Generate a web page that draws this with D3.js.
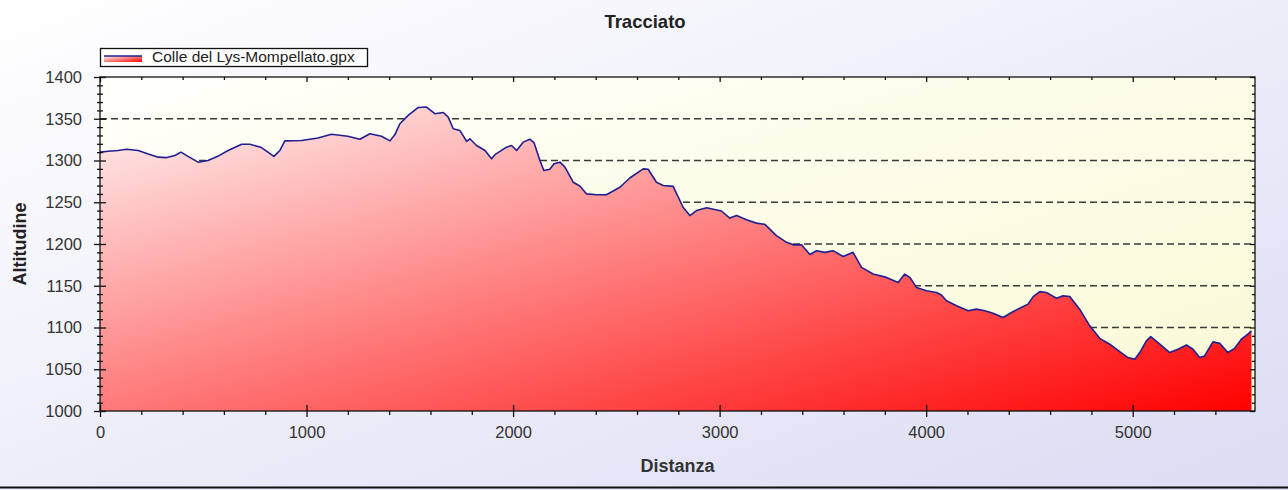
<!DOCTYPE html>
<html>
<head>
<meta charset="utf-8">
<script src="https://cdn.jsdelivr.net/npm/d3@7"></script>
<style>
html,body{margin:0;padding:0;overflow:hidden;}
svg{display:block;}
text{font-family:"Liberation Sans",Arial,sans-serif;}
</style>
</head>
<body>
<svg id="chart" width="1288" height="490"></svg>
<script>
// ---- data ----
const title = "Tracciato";
const seriesName = "Colle del Lys-Mompellato.gpx";
const xLabel = "Distanza";
const yLabel = "Altitudine";
const distances = [0,40,87,129,185,230,282,323,363,392,426,475,523,570,620,686,726,782,813,842,871,895,976,1055,1121,1200,1258,1307,1363,1404,1428,1452,1492,1541,1581,1621,1662,1686,1710,1742,1775,1791,1823,1864,1896,1912,1968,1993,2017,2049,2081,2101,2130,2149,2178,2198,2227,2251,2291,2323,2356,2404,2452,2517,2565,2630,2654,2694,2727,2775,2823,2856,2888,2937,3009,3049,3082,3130,3178,3219,3275,3324,3356,3396,3437,3469,3509,3549,3598,3646,3687,3743,3808,3864,3896,3921,3953,4001,4050,4074,4098,4147,4203,4243,4284,4324,4372,4413,4453,4493,4518,4550,4582,4631,4663,4695,4743,4792,4840,4889,4937,4977,5010,5034,5066,5087,5131,5179,5219,5260,5292,5324,5348,5389,5421,5461,5493,5526,5558,5575];
const altitudes = [1310,1311,1312,1313.5,1312,1308,1304,1303.5,1306,1310,1305,1298,1300,1305,1312,1319.5,1319.5,1315.5,1310,1305,1312,1323.5,1324,1327,1331.5,1329,1325.5,1332,1329,1323.5,1331,1344,1354,1363.5,1364,1356,1357.5,1352,1338,1336,1323,1326,1318,1312,1302,1307,1316,1318,1312,1322,1325.5,1321.5,1300,1288,1289.5,1296,1298,1292,1274,1269.5,1260,1259,1259,1268,1279,1290,1289.5,1274,1270,1269,1244,1234,1240,1243.5,1239.5,1231,1234,1229,1225,1223.5,1210,1202,1199,1199,1187.5,1192,1190,1192,1185,1190,1172,1164,1160,1154,1164,1160,1148,1144,1142,1139,1132,1126,1120,1122,1120,1117,1112,1118,1123,1128,1137,1143,1142,1135,1138,1137,1122,1102,1087,1080,1071,1064,1062,1070,1084,1089,1080,1070,1074,1079,1074,1064,1066,1083,1081,1070,1075,1086,1092,1096];
const xTicks = [0,1000,2000,3000,4000,5000];
const yTicks = [1000,1050,1100,1150,1200,1250,1300,1350,1400];
const gridValues = [1100,1150,1200,1250,1300,1350];
const xDomain = [0,5592];
const yDomain = [1000,1400];

const points = distances.map((d,i)=>({d, a: altitudes[i]}));

// ---- layout ----
const W = 1288, H = 490;
const L = 100, R = 1255, T = 77, B = 411;
const svg = d3.select("#chart");
const defs = svg.append("defs");

const bg = defs.append("linearGradient").attr("id","bg").attr("x1",0).attr("y1",0).attr("x2",1).attr("y2",1);
bg.append("stop").attr("offset","0%").attr("stop-color","#ffffff");
bg.append("stop").attr("offset","100%").attr("stop-color","#dcdcf4");

const pbg = defs.append("linearGradient").attr("id","pbg").attr("x1",0).attr("y1",0).attr("x2",1).attr("y2",1);
pbg.append("stop").attr("offset","0%").attr("stop-color","#fffffb");
pbg.append("stop").attr("offset","100%").attr("stop-color","#fafad6");

const ag = defs.append("linearGradient").attr("id","ag").attr("x1",0).attr("y1",0).attr("x2",1).attr("y2",1);
ag.append("stop").attr("offset","0%").attr("stop-color","#fff2f2");
ag.append("stop").attr("offset","100%").attr("stop-color","#ff0000");

svg.append("rect").attr("width",W).attr("height",H).attr("fill","url(#bg)");
svg.append("line").attr("x1",0).attr("x2",W).attr("y1",487.5).attr("y2",487.5).attr("stroke","#111").attr("stroke-width",2);

const x = d3.scaleLinear().domain(xDomain).range([L,R]);
const y = d3.scaleLinear().domain(yDomain).range([B,T]);

svg.append("rect").attr("x",L).attr("y",T).attr("width",R-L).attr("height",B-T).attr("fill","url(#pbg)");

// grid
svg.append("g").selectAll("line").data(gridValues).join("line")
  .attr("x1",L).attr("x2",R).attr("y1",d=>y(d)).attr("y2",d=>y(d))
  .attr("stroke","#3a3a3a").attr("stroke-width",1.4).attr("stroke-dasharray","7,4");

// area
const area = d3.area().x(p=>x(p.d)).y0(y(yDomain[0])).y1(p=>y(p.a));
svg.append("path").datum(points).attr("d",area).attr("fill","url(#ag)");
const line = d3.line().x(p=>x(p.d)).y(p=>y(p.a));
svg.append("path").datum(points).attr("d",line).attr("fill","none")
  .attr("stroke","#1f1f8f").attr("stroke-width",1.6).attr("stroke-linejoin","round");

// frame
svg.append("rect").attr("x",L).attr("y",T).attr("width",R-L).attr("height",B-T)
  .attr("fill","none").attr("stroke","#111").attr("stroke-width",1.3);

const xMinor = d3.range(0, xDomain[1], 200).filter(v=>v%1000!==0);
const yMinor = d3.range(1000, 1401, 10).filter(v=>v%50!==0);

function styleAxis(g){ g.select(".domain").remove(); g.selectAll("line").attr("stroke","#111").attr("stroke-width",1.3); }

// bottom axis
const bx = svg.append("g").attr("transform",`translate(0,${B})`)
  .call(d3.axisBottom(x).tickValues(xTicks).tickSize(6).tickPadding(9).tickFormat(d3.format("d")));
styleAxis(bx);
bx.selectAll(".tick line").attr("y1",-6);
bx.selectAll("text").attr("font-size","16.5px").attr("fill","#333").attr("font-family","Liberation Sans, Arial, sans-serif");
const bxm = svg.append("g").attr("transform",`translate(0,${B})`)
  .call(d3.axisBottom(x).tickValues(xMinor).tickSize(4).tickFormat(""));
styleAxis(bxm);

// top axis (ticks inward)
const tx = svg.append("g").attr("transform",`translate(0,${T})`)
  .call(d3.axisBottom(x).tickValues(xTicks).tickSize(5).tickFormat(""));
styleAxis(tx);
const txm = svg.append("g").attr("transform",`translate(0,${T})`)
  .call(d3.axisBottom(x).tickValues(xMinor).tickSize(3).tickFormat(""));
styleAxis(txm);

// left axis
const ly = svg.append("g").attr("transform",`translate(${L},0)`)
  .call(d3.axisLeft(y).tickValues(yTicks).tickSize(6).tickPadding(12).tickFormat(d3.format("d")));
styleAxis(ly);
ly.selectAll(".tick line").attr("x1",6);
ly.selectAll("text").attr("font-size","16.5px").attr("fill","#333").attr("font-family","Liberation Sans, Arial, sans-serif");
const lym = svg.append("g").attr("transform",`translate(${L},0)`)
  .call(d3.axisLeft(y).tickValues(yMinor).tickSize(3).tickFormat(""));
styleAxis(lym);
lym.selectAll(".tick line").attr("x1",3);

// right axis (ticks inward)
const ry = svg.append("g").attr("transform",`translate(${R},0)`)
  .call(d3.axisLeft(y).tickValues(yTicks).tickSize(5).tickFormat(""));
styleAxis(ry);
const rym = svg.append("g").attr("transform",`translate(${R},0)`)
  .call(d3.axisLeft(y).tickValues(yMinor).tickSize(3).tickFormat(""));
styleAxis(rym);

// titles
svg.append("text").attr("x",645).attr("y",28).attr("text-anchor","middle")
  .attr("font-size","18.5px").attr("font-weight","bold").attr("fill","#222").text(title);
svg.append("text").attr("x",(L+R)/2).attr("y",472).attr("text-anchor","middle")
  .attr("font-size","18px").attr("font-weight","bold").attr("fill","#333").text(xLabel);
svg.append("text").attr("transform",`translate(26,${(T+B)/2}) rotate(-90)`).attr("text-anchor","middle")
  .attr("font-size","18px").attr("font-weight","bold").attr("fill","#222").text(yLabel);

// legend
const lg = svg.append("g");
lg.append("rect").attr("x",100.5).attr("y",48.5).attr("width",267).attr("height",18)
  .attr("fill","#ffffff").attr("stroke","#111").attr("stroke-width",1.3);
lg.append("rect").attr("x",104).attr("y",56).attr("width",38).attr("height",6).attr("fill","url(#ag)");
lg.append("line").attr("x1",104).attr("x2",142).attr("y1",56).attr("y2",56).attr("stroke","#1f1f8f").attr("stroke-width",1.6);
lg.append("text").attr("x",152).attr("y",62).attr("font-size","15.5px").attr("fill","#222").text(seriesName);
</script>
</body>
</html>
